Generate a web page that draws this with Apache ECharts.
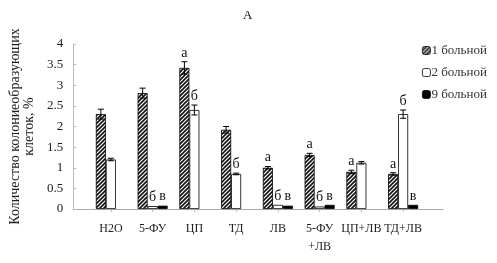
<!DOCTYPE html>
<html><head><meta charset="utf-8">
<script src="https://cdn.jsdelivr.net/npm/echarts@6/dist/echarts.min.js"></script>
<style>html,body{margin:0;padding:0;background:#fff}#c{width:497px;height:263px}</style>
</head><body><div id="c"></div>
<script>
const categories = ['H2O', '5-ФУ', 'ЦП', 'ТД', 'ЛВ', '5-ФУ\n+ЛВ', 'ЦП+ЛВ', 'ТД+ЛВ'];
const seriesNames = ['1 больной', '2 больной', '9 больной'];
const patient1 = [2.3, 2.81, 3.42, 1.92, 1.0, 1.31, 0.9, 0.85];
const patient2 = [1.2, 0.07, 2.4, 0.85, 0.1, 0.06, 1.12, 2.3];
const patient9 = [null, 0.08, null, null, 0.08, 0.1, null, 0.1];
const err1 = [0.12, 0.12, 0.15, 0.08, 0.03, 0.04, 0.04, 0.03];
const err2 = [0.03, 0.01, 0.12, 0.02, 0.01, 0.01, 0.03, 0.1];
const err9 = [0, 0.01, 0, 0, 0.01, 0.01, 0, 0.01];
const letters1 = ['', '', 'а', '', 'а', 'а', 'а', 'а'];
const letters2 = ['', 'б', 'б', 'б', 'б', 'б', '', 'б'];
const letters9 = ['', 'в', '', '', 'в', 'в', '', 'в'];
const yTicks = [0, 0.5, 1, 1.5, 2, 2.5, 3, 3.5, 4];

function hatch() {
  const c = document.createElement('canvas');
  c.width = 4; c.height = 4;
  const g = c.getContext('2d');
  g.fillStyle = '#fff'; g.fillRect(0, 0, 4, 4);
  g.strokeStyle = '#111'; g.lineWidth = 1.6;
  g.beginPath();
  g.moveTo(-1, 5); g.lineTo(5, -1);
  g.moveTo(-1, 1); g.lineTo(1, -1);
  g.moveTo(3, 5); g.lineTo(5, 3);
  g.stroke();
  return c;
}
const hatchFill = { image: hatch(), repeat: 'repeat' };
const font = '"Liberation Serif", "DejaVu Serif", serif';

const chart = echarts.init(document.getElementById('c'), null, { renderer: 'canvas' });
const allVals = [patient1, patient2, patient9];
const allErr = [err1, err2, err9];
const allLetters = [letters1, letters2, letters9];
const fills = [hatchFill, '#fff', '#000'];

const barSeries = seriesNames.map((name, i) => ({
  name, type: 'bar', xAxisIndex: 1, yAxisIndex: 1,
  data: allVals[i].map((v, k) => ({
    value: v,
    label: { offset: [0, -Math.round(allErr[i][k] * 41)] }
  })),
  barWidth: 10, barGap: '0%',
  itemStyle: { color: fills[i], borderColor: '#000', borderWidth: 0.8 },
  label: {
    show: true, position: 'top', distance: 2,
    formatter: p => allLetters[i][p.dataIndex],
    fontFamily: font, fontSize: 14, color: '#111'
  },
  emphasis: { disabled: true }
}));

const errSeries = {
  type: 'custom', xAxisIndex: 1, yAxisIndex: 1, silent: true, z: 5,
  data: (function () {
    const d = [];
    for (let s = 0; s < 3; s++) for (let k = 0; k < categories.length; k++)
      if (allErr[s][k] > 0.015) d.push([k, allVals[s][k], allErr[s][k], s]);
    return d;
  })(),
  renderItem: function (params, api) {
    const k = api.value(0), v = api.value(1), e = api.value(2), s = api.value(3);
    const off = (s - 1) * 10;
    const top = api.coord([k, v + e]);
    const bot = api.coord([k, Math.max(v - e, 0)]);
    const x = top[0] + off;
    return {
      type: 'group', children: [
        { type: 'line', shape: { x1: x, y1: top[1], x2: x, y2: bot[1] }, style: { stroke: '#000', lineWidth: 1 } },
        { type: 'line', shape: { x1: x - 3, y1: top[1], x2: x + 3, y2: top[1] }, style: { stroke: '#000', lineWidth: 1 } },
        { type: 'line', shape: { x1: x - 3, y1: bot[1], x2: x + 3, y2: bot[1] }, style: { stroke: '#000', lineWidth: 1 } }
      ]
    };
  }
};

chart.setOption({
  animation: false,
  backgroundColor: '#fff',
  title: { text: 'А', left: 238, top: 4, textStyle: { fontFamily: font, fontSize: 13, fontWeight: 'normal', color: '#111' } },
  legend: {
    data: seriesNames.map((n, i) => ({ name: n, itemStyle: { color: fills[i], borderColor: '#000', borderWidth: 0.8 } })),
    orient: 'vertical', left: 417, top: 39, itemWidth: 8, itemHeight: 8, itemGap: 9,
    textStyle: { fontFamily: font, fontSize: 13, color: '#333', padding: [0, 0, 0, -4] },
    selectedMode: false
  },
  grid: [
    { left: 69, right: 54, top: 44, bottom: 54 },
    { left: 90, right: 73, top: 44, bottom: 54 }
  ],
  xAxis: [
    { type: 'value', gridIndex: 0, min: 0, max: 1, axisLine: { show: true, lineStyle: { color: '#aaa', width: 1 } }, axisTick: { show: false }, axisLabel: { show: false }, splitLine: { show: false } },
    { type: 'category', gridIndex: 1, data: categories,
      axisLine: { show: false },
      axisTick: { show: true, alignWithLabel: true, length: 3, lineStyle: { color: '#bbb' } },
      axisLabel: { fontFamily: font, fontSize: 12, color: '#222', margin: 11, lineHeight: 18, interval: 0 } }
  ],
  yAxis: [
    { type: 'value', gridIndex: 0, min: yTicks[0], max: yTicks[yTicks.length - 1], interval: 0.5,
      axisLine: { show: true, lineStyle: { color: '#bbb' } },
      axisTick: { show: true, inside: true, length: 3, lineStyle: { color: '#bbb' } },
      splitLine: { show: false },
      axisLabel: { fontFamily: font, fontSize: 13, color: '#222', margin: 10, formatter: v => String(v) },
      name: 'Количество колониеобразующих\nклеток, %', nameLocation: 'middle', nameRotate: 90, nameGap: 37,
      nameTextStyle: { fontFamily: font, fontSize: 14, color: '#222', lineHeight: 14 } },
    { type: 'value', gridIndex: 1, min: 0, max: 4, interval: 0.5, show: false }
  ],
  series: [...barSeries, errSeries]
});
</script></body></html>
